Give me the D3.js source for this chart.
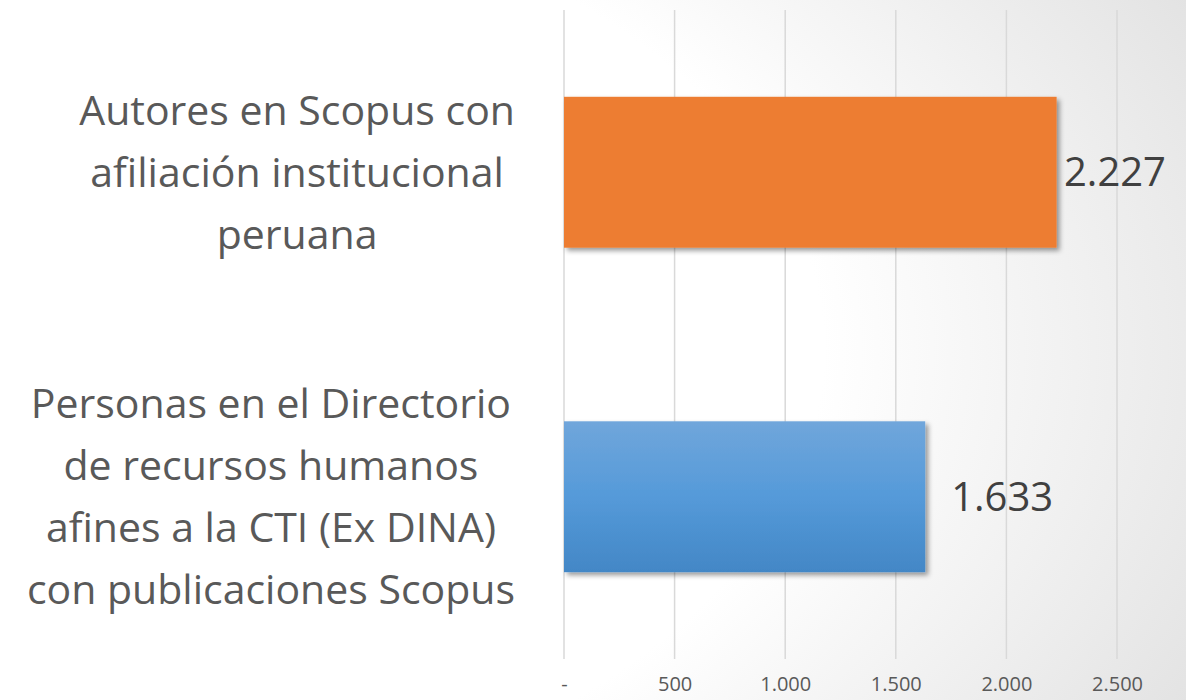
<!DOCTYPE html>
<html>
<head>
<meta charset="utf-8">
<script src="https://cdn.jsdelivr.net/npm/d3@7"></script>
<style>
  body { margin: 0; background: #fff; }
  svg { display: block; }
</style>
</head>
<body>
<div id="chart"></div>
<script>
const categories = [
  ["Autores en Scopus con", "afiliación institucional", "peruana"],
  ["Personas en el Directorio", "de recursos humanos", "afines a la CTI (Ex DINA)", "con publicaciones Scopus"]
];
const values = [2227, 1633];
const barColors = ["orange", "blue"];
const tickValues = [0, 500, 1000, 1500, 2000, 2500];

const W = 1186, H = 700;
const margin = {top: 10, right: 69, bottom: 41, left: 564};

const svg = d3.select("#chart").append("svg")
  .attr("width", W).attr("height", H)
  .style("font-family", "'Open Sans', sans-serif");

const defs = svg.append("defs");

// background fades to grey towards the right edge
const bg = defs.append("radialGradient").attr("id", "bg")
  .attr("cx", "0%").attr("cy", "50%").attr("r", "112%");
bg.append("stop").attr("offset", "62%").attr("stop-color", "#ffffff");
bg.append("stop").attr("offset", "100%").attr("stop-color", "#e3e3e3");
svg.append("rect").attr("width", W).attr("height", H).attr("fill", "url(#bg)");

const blue = defs.append("linearGradient").attr("id", "blue")
  .attr("x1", 0).attr("y1", 0).attr("x2", 0).attr("y2", 1);
blue.append("stop").attr("offset", "0%").attr("stop-color", "#70a6db");
blue.append("stop").attr("offset", "50%").attr("stop-color", "#559ad9");
blue.append("stop").attr("offset", "100%").attr("stop-color", "#4387c6");

const shadow = defs.append("filter").attr("id", "shadow")
  .attr("x", "-5%").attr("y", "-10%").attr("width", "115%").attr("height", "130%");
shadow.append("feDropShadow").attr("dx", 3).attr("dy", 3)
  .attr("stdDeviation", 2.5).attr("flood-color", "#000").attr("flood-opacity", 0.4);

const fill = {orange: "#ed7d31", blue: "url(#blue)"};

const x = d3.scaleLinear().domain([0, 2500]).range([margin.left, W - margin.right]);
const y = d3.scaleBand().domain(d3.range(values.length))
  .range([margin.top, H - margin.bottom]).paddingInner(0.535).paddingOuter(0.2675);

const loc = d3.formatLocale({decimal: ",", thousands: ".", grouping: [3], currency: ["", ""]});
const fmt = loc.format(",d");

// gridlines + tick labels
const grid = svg.append("g");
grid.selectAll("line").data(tickValues).join("line")
  .attr("x1", d => x(d)).attr("x2", d => x(d))
  .attr("y1", margin.top).attr("y2", H - margin.bottom)
  .attr("stroke", "#d9d9d9").attr("stroke-width", 1.5);

const xAxis = svg.append("g")
  .attr("transform", `translate(0, ${H - margin.bottom})`)
  .call(d3.axisBottom(x).tickValues(tickValues).tickSize(0).tickPadding(18)
    .tickFormat(d => d === 0 ? "-" : fmt(d)));
xAxis.select(".domain").remove();
xAxis.selectAll("text").attr("fill", "#595959").style("font-size", "20px")
  .style("font-family", "'Open Sans', sans-serif");

// bars
svg.append("g").selectAll("rect").data(values).join("rect")
  .attr("x", x(0))
  .attr("y", (d, i) => y(i))
  .attr("width", d => x(d) - x(0))
  .attr("height", y.bandwidth())
  .attr("fill", (d, i) => fill[barColors[i]])
  .attr("filter", "url(#shadow)");

// value labels, kept inside the chart area
const vl = svg.append("g").selectAll("text").data(values).join("text")
  .attr("y", (d, i) => y(i) + y.bandwidth() / 2)
  .attr("dy", "0.35em")
  .attr("fill", "#404040")
  .style("font-size", "40px")
  .text(d => fmt(d));
vl.attr("x", function(d) {
  const w = this.getComputedTextLength();
  return Math.min(x(d) + 26, W - 20 - w);
});

// category labels: block right-aligned, lines centered inside
const lineH = 62;
const labelRight = 515;
categories.forEach((lines, i) => {
  const g = svg.append("g");
  const cy = y(i) + y.bandwidth() / 2;
  const t = g.selectAll("text").data(lines).join("text")
    .attr("text-anchor", "middle")
    .attr("fill", "#595959")
    .style("font-size", "41px")
    .attr("y", (d, j) => cy + (j - (lines.length - 1) / 2) * lineH)
    .attr("dy", "0.35em")
    .text(d => d);
  const maxW = d3.max(t.nodes(), n => n.getComputedTextLength());
  t.attr("x", labelRight - maxW / 2);
});
</script>
</body>
</html>
